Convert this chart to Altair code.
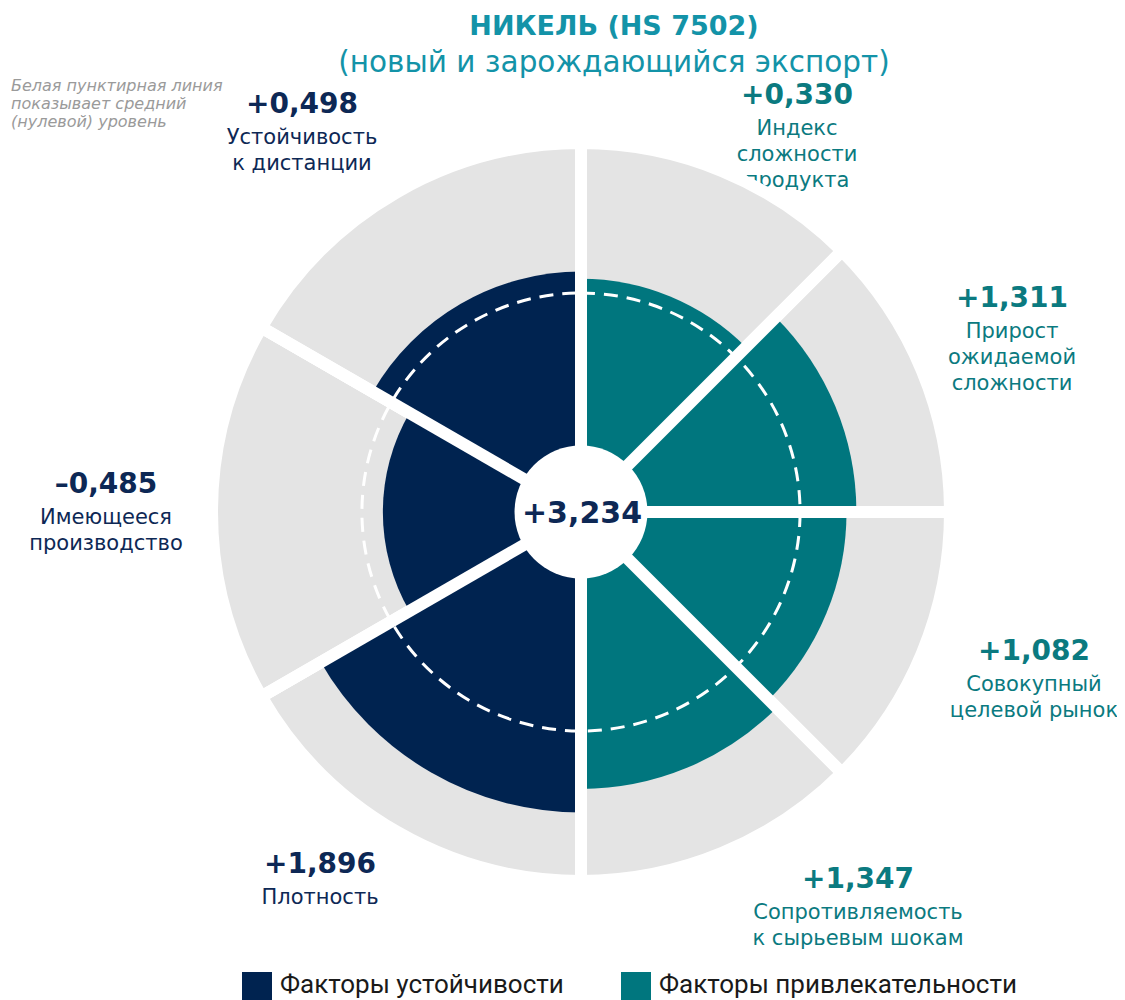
import math
import altair as alt
import pandas as pd

# ---------------- data ----------------
factor_lines = [
    ["Индекс", "сложности", "продукта"],
    ["Прирост", "ожидаемой", "сложности"],
    ["Совокупный", "целевой рынок"],
    ["Сопротивляемость", "к сырьевым шокам"],
    ["Плотность"],
    ["Имеющееся", "производство"],
    ["Устойчивость", "к дистанции"],
]
groups = ["Факторы привлекательности"] * 4 + ["Факторы устойчивости"] * 3
values = [0.330, 1.311, 1.082, 1.347, 1.896, -0.485, 0.498]
total_value = 3.234
legend_groups = ["Факторы устойчивости", "Факторы привлекательности"]

title_text = "НИКЕЛЬ (HS 7502)"
subtitle_text = "(новый и зарождающийся экспорт)"
note_lines = ["Белая пунктирная линия", "показывает средний", "(нулевой) уровень"]

# ---------------- layout / style ----------------
W, H = 1109, 992
CX, CY = 573, 504
NAVY = "#002350"
TEAL = "#00767E"
GRAY = "#E4E4E4"
NAVY_TXT = "#0D2855"
TEAL_TXT = "#0B7A80"
TITLE_C = "#1393A8"
FONT = "DejaVu Sans"

# label anchors (value line centre) for each sector, chart pixels
label_anchor = [(789, 88), (1004, 291), (1026, 644), (850, 872),
                (312, 857), (98, 477), (294, 97)]

def fmt(v):
    s = f"{v:+.3f}".replace(".", ",")
    return s.replace("-", "–")

# sector angles: each group fills half of the circle
group_order = ["Факторы привлекательности", "Факторы устойчивости"]
starts, ends = [], []
for gi, g in enumerate(group_order):
    idx = [i for i, gg in enumerate(groups) if gg == g]
    step = 180.0 / len(idx)
    for k, i in enumerate(idx):
        starts.append(gi * 180 + k * step)
        ends.append(gi * 180 + (k + 1) * step)

sectors = pd.DataFrame({
    "factor": [" ".join(l) for l in factor_lines],
    "group": groups,
    "value": values,
    "start": starts,
    "end": ends,
})

val_rows, name_rows = [], []
for i, lines in enumerate(factor_lines):
    ax, ay = label_anchor[i]
    col = TEAL_TXT if groups[i] == group_order[0] else NAVY_TXT
    val_rows.append({"x": ax, "y": ay, "text": fmt(values[i]), "c": col})
    for j, ln in enumerate(lines):
        name_rows.append({"x": ax, "y": ay + 33 + 26 * j, "text": ln, "c": col})
val_df = pd.DataFrame(val_rows)
name_df = pd.DataFrame(name_rows)

sep_df = pd.DataFrame({"angle": sorted(set(starts))})
zero_df = pd.DataFrame({"value": [0.0], "start": [0.0], "end": [360.0]})

theta_scale = alt.Scale(domain=[0, 360], range=[0, 2 * math.pi])
r_scale = alt.Scale(type="linear", domain=[0, 1], range=[219, 262], zero=False)
color_scale = alt.Scale(domain=legend_groups, range=[NAVY, TEAL])

X = lambda f: alt.X(f, scale=None, axis=None)
Y = lambda f: alt.Y(f, scale=None, axis=None)

names = alt.Chart(name_df).mark_text(font=FONT, fontSize=21, baseline="middle", align="center").encode(
    x=X("x:Q"), y=Y("y:Q"), text="text:N", color=alt.Color("c:N", scale=None))
vals = alt.Chart(val_df).mark_text(font=FONT, fontSize=28, fontWeight="bold", baseline="middle", align="center").encode(
    x=X("x:Q"), y=Y("y:Q"), text="text:N", color=alt.Color("c:N", scale=None))

gray = alt.Chart(sectors).mark_arc(color=GRAY, stroke="white", strokeWidth=12, strokeJoin="round").encode(
    theta=alt.Theta("start:Q", scale=theta_scale, stack=None),
    theta2="end:Q",
    radius=alt.value(369),
    radius2=alt.value(0),
    x=alt.value(CX), y=alt.value(CY))

bars = alt.Chart(sectors).mark_arc().encode(
    theta=alt.Theta("start:Q", scale=theta_scale, stack=None),
    theta2="end:Q",
    radius=alt.Radius("value:Q", scale=r_scale),
    radius2=alt.value(0),
    color=alt.Color("group:N", scale=color_scale, legend=None),
    x=alt.value(CX), y=alt.value(CY))

zero = alt.Chart(zero_df).mark_arc(fillOpacity=0, stroke="white", strokeWidth=3, strokeDash=[14, 9]).encode(
    theta=alt.Theta("start:Q", scale=theta_scale, stack=None),
    theta2="end:Q",
    radius=alt.Radius("value:Q", scale=r_scale),
    radius2=alt.value(0),
    x=alt.value(CX), y=alt.value(CY))

seps = alt.Chart(sep_df).transform_calculate(
    x1=f"{CX}", y1=f"{CY}",
    x2=f"{CX} + 372*sin(datum.angle*PI/180)",
    y2=f"{CY} - 372*cos(datum.angle*PI/180)",
).mark_rule(color="white", strokeWidth=12).encode(
    x=X("x1:Q"), y=Y("y1:Q"), x2="x2:Q", y2="y2:Q")

center = alt.Chart(pd.DataFrame({"t": [fmt(total_value)]})).mark_circle(
    size=math.pi * 75 ** 2, color="white", opacity=1).encode(x=alt.value(CX), y=alt.value(CY))
center_txt = alt.Chart(pd.DataFrame({"t": [fmt(total_value)]})).mark_text(
    font=FONT, fontSize=30, fontWeight="bold", color=NAVY_TXT, baseline="middle", align="center").encode(
    x=alt.value(CX + 1), y=alt.value(CY + 2), text="t:N")

title = alt.Chart(pd.DataFrame({"t": [title_text]})).mark_text(
    font=FONT, fontSize=27, fontWeight="bold", color=TITLE_C, baseline="middle", align="center").encode(
    x=alt.value(606), y=alt.value(19), text="t:N")
subtitle = alt.Chart(pd.DataFrame({"t": [subtitle_text]})).mark_text(
    font=FONT, fontSize=29.5, color=TITLE_C, baseline="middle", align="center").encode(
    x=alt.value(606), y=alt.value(55), text="t:N")

note_df = pd.DataFrame({"t": note_lines, "i": list(range(len(note_lines)))})
note = alt.Chart(note_df).transform_calculate(yy="78 + 18*datum.i").mark_text(
    font=FONT, fontSize=16, fontStyle="italic", color="#9A9A9A", baseline="middle", align="left").encode(
    x=alt.value(3), y=Y("yy:Q"), text="t:N")

leg_df = pd.DataFrame({"group": legend_groups, "sx": [249, 628]})
leg_sq = alt.Chart(leg_df).mark_square(size=900, opacity=1).encode(
    x=X("sx:Q"), y=alt.value(979),
    color=alt.Color("group:N", scale=color_scale, legend=None))
leg_txt = alt.Chart(leg_df).transform_calculate(tx="datum.sx + 23").mark_text(
    font="Roboto", fontSize=26, color="#1A1A1A", baseline="middle", align="left").encode(
    x=X("tx:Q"), y=alt.value(977), text="group:N")

chart = alt.layer(
    names, vals, gray, bars, zero, seps, center, center_txt,
    title, subtitle, note, leg_sq, leg_txt
).properties(
    width=W, height=H,
    autosize=alt.AutoSizeParams(type="none"),
    padding=0,
    background="white",
).configure_view(stroke=None)

chart.save("out.html", embed_options={"renderer": "svg", "actions": False})
